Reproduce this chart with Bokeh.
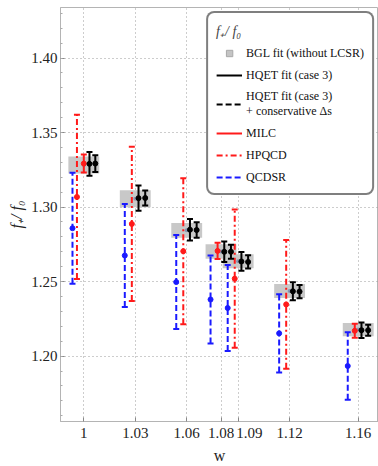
from bokeh.plotting import figure
from bokeh.models import (Legend, LegendItem, Range1d, FixedTicker, ColumnDataSource)
from bokeh.embed import file_html
from bokeh.resources import INLINE

# ---------------- data ----------------
w_ticks = [1.00, 1.03, 1.06, 1.08, 1.09, 1.12, 1.16]
w_tick_labels = ["1", "1.03", "1.06", "1.08", "\u00a0\u00a0\u00a0\u00a0\u00a0\u00a01.09", "1.12", "1.16"]
y_ticks = [1.20, 1.25, 1.30, 1.35, 1.40]
y_tick_labels = ["1.20", "1.25", "1.30", "1.35", "1.40"]

bgl_w = [1.00, 1.03, 1.06, 1.08, 1.09, 1.12, 1.16]
bgl_val = [1.3283, 1.3056, 1.2844, 1.2702, 1.2636, 1.2437, 1.2178]
bgl_err = [0.0057, 0.0057, 0.0050, 0.0049, 0.0047, 0.0047, 0.0045]

qcdsr_w = [1.00, 1.03, 1.06, 1.08, 1.09, 1.12, 1.16]
qcdsr_val = [1.2858, 1.2675, 1.2497, 1.2380, 1.2323, 1.2153, 1.1934]
qcdsr_err = [0.0372, 0.0345, 0.0315, 0.0295, 0.0288, 0.0263, 0.0227]

hpqcd_w = [1.00, 1.03, 1.06, 1.09, 1.12]
hpqcd_val = [1.3068, 1.2887, 1.2704, 1.2520, 1.2347]
hpqcd_err = [0.0551, 0.0517, 0.0490, 0.0463, 0.0432]

milc_w = [1.00, 1.08, 1.16]
milc_val = [1.3292, 1.2706, 1.2170]
milc_err = [0.0060, 0.0055, 0.0047]

hqet_w = [1.00, 1.03, 1.06, 1.08, 1.09, 1.12, 1.16]
hqet_val = [1.3290, 1.3060, 1.2848, 1.2700, 1.2635, 1.2435, 1.2174]
hqet_err = [0.0080, 0.0085, 0.0072, 0.0069, 0.0063, 0.0060, 0.0052]
hqet_cons_val = [1.3292, 1.3061, 1.2846, 1.2700, 1.2632, 1.2433, 1.2174]
hqet_cons_err = [0.0056, 0.0050, 0.0052, 0.0047, 0.0044, 0.0044, 0.0037]

# ---------------- layout of the series around each w ----------------
OFFSETS_4 = {"QCDSR": -0.0061, "HPQCD": -0.0020, "MILC": -0.0020, "HQET": 0.0019, "HQETC": 0.0058}
OFFSETS_5 = {"QCDSR": -0.0066, "HPQCD": -0.0040, "MILC": 0.0000, "HQET": 0.0033, "HQETC": 0.0067}
BOX_HALF = 0.0090


def xpos(name, ws):
    out = []
    for w in ws:
        table = OFFSETS_5 if (w in hpqcd_w and w in milc_w) else OFFSETS_4
        out.append(w + table[name])
    return out


SERIF = "Liberation Serif"
AXIS_GRAY = "#b4b4b4"

p = figure(width=378, height=466, output_backend="svg", toolbar_location=None,
           x_range=Range1d(0.98641, 1.17183), y_range=Range1d(1.15615, 1.43389),
           min_border_left=60, min_border_right=0, min_border_top=7, min_border_bottom=41)
p.background_fill_color = "white"
p.border_fill_color = "white"
p.outline_line_color = AXIS_GRAY
p.outline_line_width = 1

# axes
p.xaxis.ticker = FixedTicker(ticks=w_ticks)
p.xaxis.major_label_overrides = {t: s for t, s in zip(w_ticks, w_tick_labels)}
minor_y = [round(1.16 + 0.01 * i, 2) for i in range(28)]
p.yaxis.ticker = FixedTicker(ticks=y_ticks, minor_ticks=minor_y)
p.yaxis.major_label_overrides = {t: s for t, s in zip(y_ticks, y_tick_labels)}
p.xaxis.axis_label = "w"
p.yaxis.axis_label = "f\u208a/ f\u2080"
for ax in (p.xaxis[0], p.yaxis[0]):
    ax.axis_line_color = AXIS_GRAY
    ax.major_tick_line_color = "#888888"
    ax.minor_tick_line_color = "#aaaaaa"
    ax.major_tick_in = 4
    ax.major_tick_out = 0
    ax.minor_tick_in = 2
    ax.minor_tick_out = 0
    ax.major_label_text_font = SERIF
    ax.major_label_text_font_size = "15px"
    ax.major_label_text_color = "#222222"
    ax.axis_label_text_font = SERIF
    ax.axis_label_text_font_size = "16px"
    ax.axis_label_text_color = "#222222"
    ax.major_label_standoff = 3
    ax.axis_label_standoff = 3
p.xaxis.minor_tick_line_color = None
p.yaxis.axis_label_text_font_style = "italic"
p.xaxis.axis_label_text_font_style = "normal"

p.xgrid.grid_line_color = "#9a9a9a"
p.xgrid.grid_line_dash = "1 3"
p.ygrid.grid_line_color = "#9a9a9a"
p.ygrid.grid_line_dash = "1 3"

# ---------------- BGL boxes ----------------
bgl_src = ColumnDataSource(dict(
    l=[w - BOX_HALF for w in bgl_w], r=[w + BOX_HALF for w in bgl_w],
    b=[v - e for v, e in zip(bgl_val, bgl_err)], t=[v + e for v, e in zip(bgl_val, bgl_err)],
    x=bgl_w, y=bgl_val))
p.quad(left="l", right="r", bottom="b", top="t", source=bgl_src,
       fill_color="#c8c8c8", line_color=None)
p.scatter("x", "y", source=bgl_src, marker="circle", size=4,
          fill_color="#8797b2", line_color=None)


def errbar(name, ws, vals, errs, color, dash, lw=2, cap=6, dot=5):
    src = ColumnDataSource(dict(
        x=xpos(name, ws), y=vals,
        lo=[v - e for v, e in zip(vals, errs)], hi=[v + e for v, e in zip(vals, errs)]))
    r = p.segment(x0="x", y0="lo", x1="x", y1="hi", source=src,
                  line_color=color, line_width=lw, line_dash=dash)
    p.scatter("x", "hi", source=src, marker="dash", size=cap, line_color=color, line_width=lw)
    p.scatter("x", "lo", source=src, marker="dash", size=cap, line_color=color, line_width=lw)
    p.scatter("x", "y", source=src, marker="circle", size=dot, fill_color=color, line_color=color)
    return r, src


r_qcdsr, _ = errbar("QCDSR", qcdsr_w, qcdsr_val, qcdsr_err, "#1a1aff", "6 3")
r_hpqcd, _ = errbar("HPQCD", hpqcd_w, hpqcd_val, hpqcd_err, "#ff1a1a", "6 3 2 3")
r_milc, _ = errbar("MILC", milc_w, milc_val, milc_err, "#ff1a1a", "solid")
r_hqet, _ = errbar("HQET", hqet_w, hqet_val, hqet_err, "black", "solid")
_, src_hqetc = errbar("HQETC", hqet_w, hqet_cons_val, hqet_cons_err, "black", "solid")

# legend-only glyphs (hidden renderers, drawn only inside the legend)
leg_bgl = p.scatter("x", "y", source=bgl_src, marker="square", size=14,
                    fill_color="#c4c4c4", line_color="#a8a8a8", visible=False)
leg_hqetc = p.segment(x0="x", y0="lo", x1="x", y1="hi", source=src_hqetc,
                      line_color="black", line_width=2, line_dash="6 3", visible=False)

items = [
    LegendItem(label="BGL fit (without LCSR)", renderers=[leg_bgl]),
    LegendItem(label="HQET fit (case 3)", renderers=[r_hqet]),
    LegendItem(label="HQET fit (case 3)\n+ conservative \u0394s", renderers=[leg_hqetc]),
    LegendItem(label="MILC", renderers=[r_milc]),
    LegendItem(label="HPQCD", renderers=[r_hpqcd]),
    LegendItem(label="QCDSR", renderers=[r_qcdsr]),
]
legend = Legend(items=items, location="top_right",
                title="f\u208a/ f\u2080", title_text_font=SERIF, title_text_font_size="14px",
                title_text_font_style="italic",
                label_text_font=SERIF, label_text_font_size="12px", label_text_color="#111111",
                glyph_width=26, glyph_height=16, label_height=16, label_standoff=4,
                spacing=6, padding=8, margin=4,
                border_line_color="black", border_line_width=2,
                background_fill_color="white", background_fill_alpha=1.0,
                inactive_fill_alpha=0.0)
if "border_radius" in Legend.properties():
    legend.border_radius = 8
p.add_layout(legend)

open("out.html", "w").write(file_html(p, INLINE))
